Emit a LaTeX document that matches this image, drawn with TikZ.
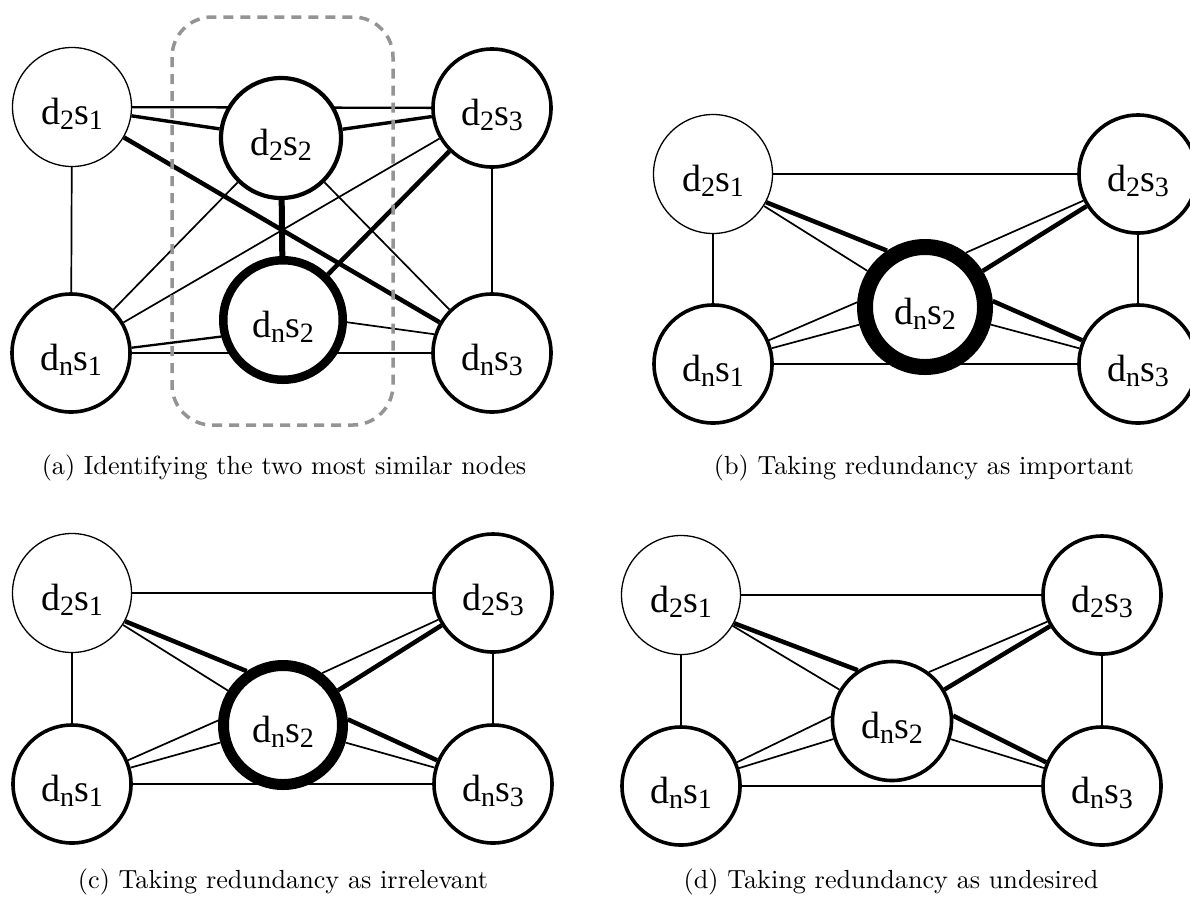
\documentclass[tikz,border=0pt]{standalone}
\usepackage{fontspec}
\newfontfamily\labfont{Liberation Serif}
\usetikzlibrary{backgrounds}
% subscripted node labels such as d_2 s_1
\newcommand\sbx[1]{\raisebox{-5pt}{\fontsize{28}{28}\selectfont #1}}
\newcommand\ds[2]{d\sbx{#1}s\sbx{#2}}
\tikzset{
  gn/.style={circle, draw, fill=white, line width=3.6pt, minimum size=118pt,
    inner sep=0pt, font=\labfont\fontsize{38}{38}\selectfont,
    text height=36pt, text depth=2pt},
  weaknode/.style={gn, line width=1.3pt, minimum size=119pt},
  e1/.style={line width=1.7pt},
  e2/.style={line width=2.3pt},
  e3/.style={line width=3.4pt},
  e4/.style={line width=4.5pt},
  e5/.style={line width=6pt},
  captext/.style={anchor=base, scale=2.62, inner sep=0pt},
  hlbox/.style={draw=black!42, line width=3.5pt, dash pattern=on 10pt off 7pt,
    rounded corners=40pt}
}
\begin{document}
\begin{tikzpicture}[x=1pt,y=-1pt]
\useasboundingbox (0,0) rectangle (1190,903);

% ---- (a) the full graph with the two most similar nodes
\node[weaknode] (a1) at (72,107) {\ds{2}{1}};
\node[gn, line width=4.2pt, minimum size=120pt] (a2) at (281,138) {\ds{2}{2}};
\node[gn] (a3) at (492,108) {\ds{2}{3}};
\node[gn] (a4) at (71,353) {\ds{n}{1}};
\node[gn, line width=8.5pt, minimum size=119.5pt] (a5) at (283,320) {\ds{n}{2}};
\node[gn] (a6) at (492,353) {\ds{n}{3}};

% ---- (b), (c), (d) the merged node with different ring weights
\node[weaknode] (b1) at (713,174) {\ds{2}{1}};
\node[gn] (b3) at (1138,174) {\ds{2}{3}};
\node[gn] (b4) at (713,364) {\ds{n}{1}};
\node[gn] (b6) at (1138,364) {\ds{n}{3}};
\node[gn, line width=16pt, minimum size=120pt] (b5) at (925,307) {\ds{n}{2}};

\node[weaknode] (c1) at (72,593) {\ds{2}{1}};
\node[gn] (c3) at (493,593) {\ds{2}{3}};
\node[gn] (c4) at (72,784) {\ds{n}{1}};
\node[gn] (c6) at (493,784) {\ds{n}{3}};
\node[gn, line width=11pt, minimum size=119pt] (c5) at (283,725) {\ds{n}{2}};

\node[weaknode] (d1) at (681,595) {\ds{2}{1}};
\node[gn] (d3) at (1102,595) {\ds{2}{3}};
\node[gn] (d4) at (681,786) {\ds{n}{1}};
\node[gn] (d6) at (1102,786) {\ds{n}{3}};
\node[gn, minimum size=119pt] (d5) at (892,721) {\ds{n}{2}};

% highlight around the pair of similar nodes
\draw[hlbox] (172,17) rectangle (393,425);

% ---- captions
\node[captext] (capa) at (284,474) {(a) Identifying the two most similar nodes};
\node[captext] (capb) at (924,474) {(b) Taking redundancy as important};
\node[captext] (capc) at (283,888) {(c) Taking redundancy as irrelevant};
\node[captext] (capd) at (891,888) {(d) Taking redundancy as undesired};

\begin{pgfonlayer}{background}
  \fill[white] (0,0) rectangle (1190,903);
  % edges of (a)
  \draw[e3] (a1) -- (a2);
  \draw[e2] (a1) -- (a3);
  \draw[e1] (a1) -- (a4);
  \draw[e4] (a1) -- (a6);
  \draw[e3] (a2) -- (a3);
  \draw[e1] (a2) -- (a4);
  \draw[e5] (a2) -- (a5);
  \draw[e1] (a2) -- (a6);
  \draw[e1] (a3) -- (a4);
  \draw[e4] (a3) -- (a5);
  \draw[e1] (a3) -- (a6);
  \draw[e2] (a4.5) -- (a5.195);
  \draw[e2] (a4) -- (a6);
  \draw[e1] (a5.-2) -- (a6.162);
  % edges of (b), (c), (d)
  \foreach \p in {b,c,d}{
    \draw[e2] (\p1) -- (\p3);
    \draw[e2] (\p4) -- (\p6);
    \draw[e1] (\p1) -- (\p4);
    \draw[e1] (\p3) -- (\p6);
    \draw[e4] (\p1.-28) -- (\p5.124);
    \draw[e1] (\p1) -- (\p5);
    \draw[e1] (\p3.206) -- (\p5.53);
    \draw[e4] (\p3) -- (\p5);
    \draw[e1] (\p4.23) -- (\p5.176);
    \draw[e1] (\p4) -- (\p5);
    \draw[e4] (\p6.157) -- (\p5.5);
    \draw[e1] (\p6) -- (\p5);
  }
\end{pgfonlayer}
\end{tikzpicture}
\end{document}
